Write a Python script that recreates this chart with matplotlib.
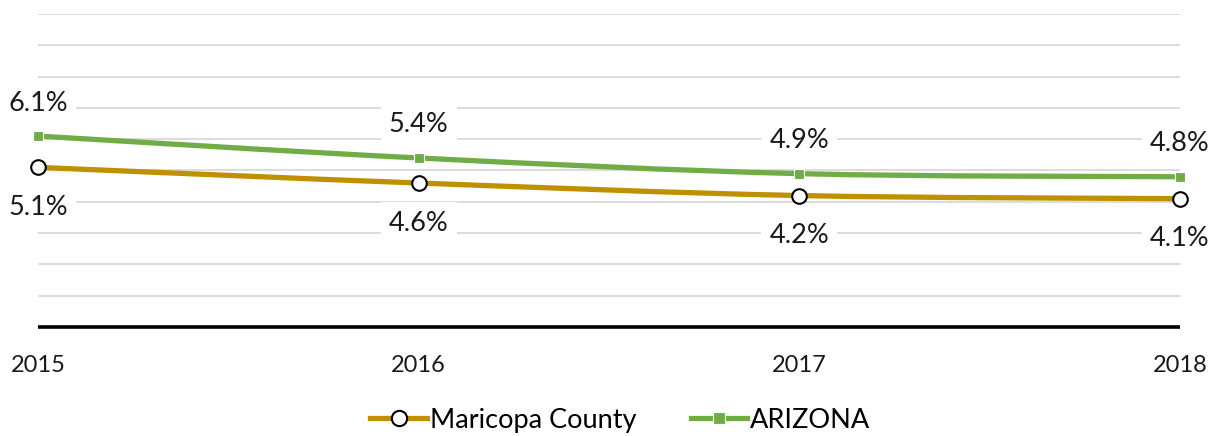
import numpy as np
import matplotlib.pyplot as plt
from matplotlib.path import Path
from matplotlib.patches import PathPatch
from matplotlib.lines import Line2D

plt.rcParams['font.family'] = ['Lato', 'DejaVu Sans']

# data
years = ['2015', '2016', '2017', '2018']
maricopa = [5.1, 4.6, 4.2, 4.1]
arizona = [6.1, 5.4, 4.9, 4.8]

gold = '#BF9000'
green = '#70AD47'


# Excel-style smoothed line drawn as cubic bezier segments
def smooth_path(x, y):
    x = np.asarray(x, float)
    y = np.asarray(y, float)
    n = len(x)
    verts = [(x[0], y[0])]
    codes = [Path.MOVETO]
    for i in range(n - 1):
        p0 = max(i - 1, 0)
        p3 = min(i + 2, n - 1)
        c1 = (x[i] + (x[i + 1] - x[p0]) / 6, y[i] + (y[i + 1] - y[p0]) / 6)
        c2 = (x[i + 1] - (x[p3] - x[i]) / 6, y[i + 1] - (y[p3] - y[i]) / 6)
        verts += [c1, c2, (x[i + 1], y[i + 1])]
        codes += [Path.CURVE4] * 3
    return Path(verts, codes)


fig = plt.figure(figsize=(12.14, 4.36), dpi=100)
ax = fig.add_axes([38 / 1214, 1 - 327 / 436, (1180 - 38) / 1214, (327 - 14) / 436])

xs = np.arange(len(years))

for vals, col in [(maricopa, gold), (arizona, green)]:
    ax.add_patch(PathPatch(smooth_path(xs, vals), fc='none', ec=col, lw=3.8,
                           capstyle='butt', zorder=3, clip_on=False))

ax.plot(xs, maricopa, ls='none', marker='o', ms=10.5, mfc='white', mec='black',
        mew=1.5, zorder=4, clip_on=False)
ax.plot(xs, arizona, ls='none', marker='s', ms=7.5, mfc=green, mec='white',
        mew=0.8, zorder=4, clip_on=False)

box = dict(boxstyle='square,pad=0.3', fc='white', ec='none')
for i, v in enumerate(maricopa):
    ax.annotate(f'{v:.1f}%', (xs[i], v), xytext=(0, -40), textcoords='offset pixels',
                ha='center', va='center', fontsize=19.5, color='#1a1a1a', bbox=box, zorder=2,
                annotation_clip=False)
for i, v in enumerate(arizona):
    ax.annotate(f'{v:.1f}%', (xs[i], v), xytext=(0, 33), textcoords='offset pixels',
                ha='center', va='center', fontsize=19.5, color='#1a1a1a', bbox=box, zorder=2,
                annotation_clip=False)

ax.set_xlim(0, len(years) - 1)
ax.set_ylim(0, 10)
ax.set_yticks(np.arange(0, 11, 1))
ax.set_yticklabels([])
ax.tick_params(axis='y', length=0)
ax.grid(axis='y', color='#d9d9d9', lw=1.3, zorder=0)
ax.set_axisbelow(True)

ax.set_xticks(xs)
ax.set_xticklabels(years, fontsize=17, color='#1a1a1a')
ax.tick_params(axis='x', length=0, pad=20)

for s in ['top', 'right', 'left']:
    ax.spines[s].set_visible(False)
ax.spines['bottom'].set_linewidth(2.6)
ax.spines['bottom'].set_color('black')
ax.spines['bottom'].set_zorder(5)
ax.spines['bottom'].set_capstyle('butt')

handles = [
    Line2D([], [], color=gold, lw=3.8, marker='o', ms=11, mfc='white', mec='black', mew=1.5),
    Line2D([], [], color=green, lw=3.8, marker='s', ms=8, mfc=green, mec='white', mew=0.8),
]
fig.legend(handles, ['Maricopa County', 'ARIZONA'], loc='center', bbox_to_anchor=(0.511, 1 - 420 / 436),
           ncol=2, frameon=False, fontsize=19.5, handlelength=2.1, handletextpad=0.1,
           columnspacing=2.0)

fig.savefig('out.png', dpi=100)
